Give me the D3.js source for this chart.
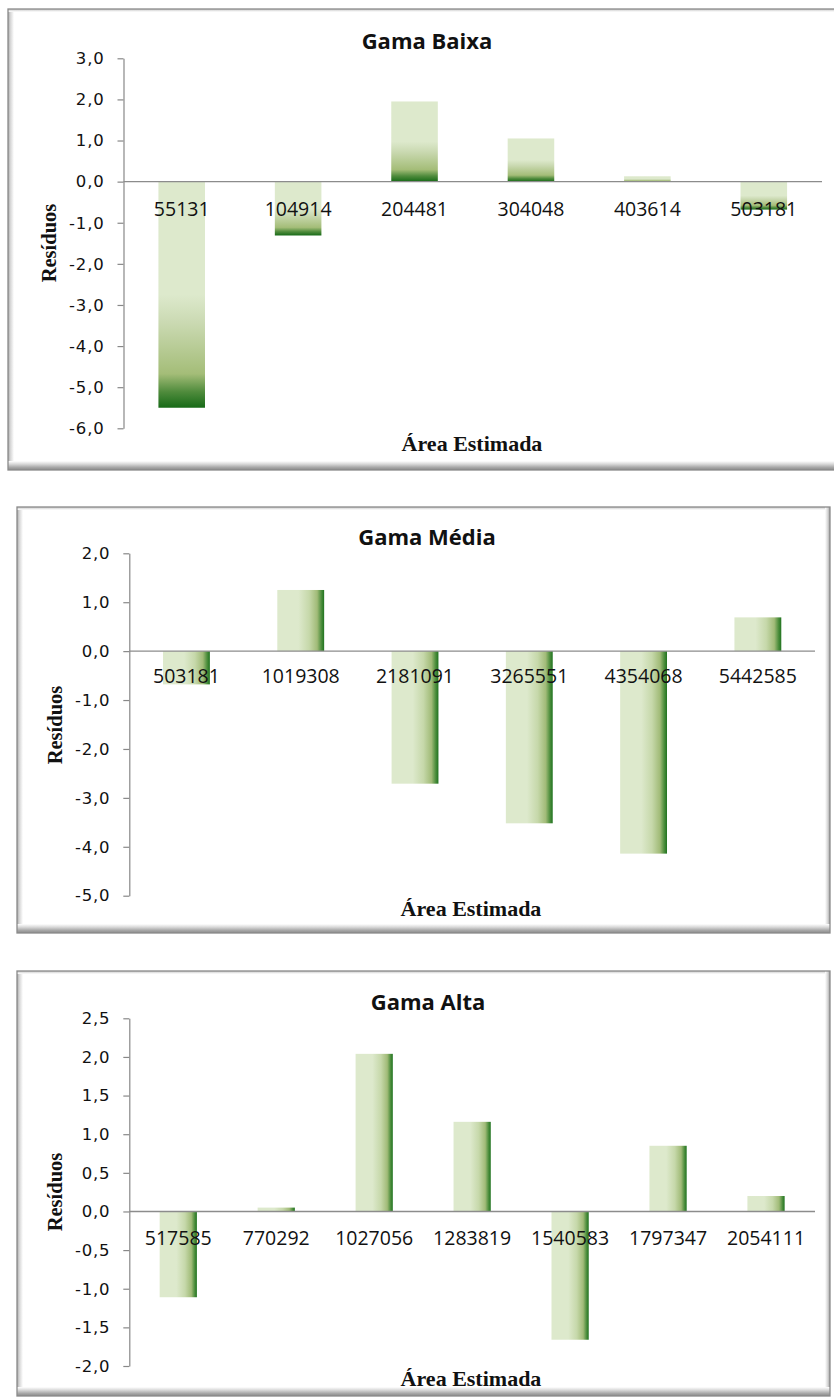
<!DOCTYPE html>
<html>
<head>
<meta charset="utf-8">
<script src="https://cdn.jsdelivr.net/npm/d3@7"></script>
<style>
  html, body { margin: 0; padding: 0; background: #ffffff; }
  svg { display: block; }
</style>
</head>
<body>
<svg id="fig" width="834" height="1398"></svg>
<script>
// Residuals against estimated area, one bar chart per range (Baixa, Média, Alta)
const baixaCategories = ["55131", "104914", "204481", "304048", "403614", "503181"];
const baixaValues = [-5.50, -1.31, 1.95, 1.05, 0.13, -0.68];
const baixaTicks = [3, 2, 1, 0, -1, -2, -3, -4, -5, -6];

const mediaCategories = ["503181", "1019308", "2181091", "3265551", "4354068", "5442585"];
const mediaValues = [-0.68, 1.25, -2.71, -3.52, -4.14, 0.69];
const mediaTicks = [2, 1, 0, -1, -2, -3, -4, -5];

const altaCategories = ["517585", "770292", "1027056", "1283819", "1540583", "1797347", "2054111"];
const altaValues = [-1.11, 0.05, 2.04, 1.16, -1.66, 0.85, 0.20];
const altaTicks = [2.5, 2, 1.5, 1, 0.5, 0, -0.5, -1, -1.5, -2];

const titles = ["Gama Baixa", "Gama Média", "Gama Alta"];
const yTitle = "Resíduos";
const xTitle = "Área Estimada";

const locale = d3.formatLocale({ decimal: ",", thousands: ".", grouping: [3], currency: ["", ""], minus: "-" });
const fmt = locale.format(".1f");

const svg = d3.select("#fig");
const defs = svg.append("defs");

function linearGradient(id, horizontal, stops) {
  const g = defs.append("linearGradient").attr("id", id)
    .attr("x1", 0).attr("y1", 0)
    .attr("x2", horizontal ? 1 : 0).attr("y2", horizontal ? 0 : 1);
  stops.forEach(([o, c]) => g.append("stop").attr("offset", o).attr("stop-color", c));
}

// bar fills: light green fading into dark green
linearGradient("fillVertical", false, [
  [0, "#dde9cc"], [0.5, "#dde9cc"], [0.62, "#cbdab3"], [0.85, "#a4bd78"], [0.93, "#4f8b3c"], [1, "#176a17"]
]);
linearGradient("fillHorizontal", true, [
  [0, "#dde9cc"], [0.45, "#dde9cc"], [0.68, "#c6d8aa"], [0.85, "#a1bb78"], [0.94, "#4d8e3d"], [1, "#1f731f"]
]);

// chart-area bevel
linearGradient("bevelL", true, [[0, "#a9a9a9"], [0.4, "#d6d6d6"], [1, "#ffffff"]]);
linearGradient("bevelT", false, [[0, "#c4c4c4"], [1, "#ffffff"]]);
linearGradient("bevelR", true, [[0, "#ffffff"], [0.6, "#d2d2d2"], [1, "#9a9a9a"]]);
linearGradient("bevelB", false, [[0, "#ffffff"], [0.35, "#d8d8d8"], [0.7, "#a8a8a8"], [1, "#8a8a8a"]]);

function drawFrame(g, x, y, w, h) {
  g.append("rect").attr("x", x).attr("y", y).attr("width", w).attr("height", h).attr("fill", "#ffffff");
  g.append("rect").attr("x", x).attr("y", y).attr("width", 6).attr("height", h).attr("fill", "url(#bevelL)");
  g.append("rect").attr("x", x).attr("y", y).attr("width", w).attr("height", 3).attr("fill", "url(#bevelT)");
  g.append("rect").attr("x", x + w - 5).attr("y", y).attr("width", 5).attr("height", h).attr("fill", "url(#bevelR)");
  g.append("rect").attr("x", x).attr("y", y + h - 9).attr("width", w).attr("height", 9).attr("fill", "url(#bevelB)");
  g.append("rect").attr("x", x).attr("y", y).attr("width", w).attr("height", h)
    .attr("fill", "none").attr("stroke", "#8a8a8a").attr("stroke-width", 1.3);
}

const charts = [
  {
    title: titles[0], categories: baixaCategories, values: baixaValues, ticks: baixaTicks,
    fill: "url(#fillVertical)", frame: [8, 9, 845, 461],
    x0: 123.5, x1: 822, yTop: 58.3, yBot: 428.3, padding: 0.6,
    titleX: 427, titleY: 49, catDy: 34.5, yTitleX: 56, yTitleY: 243, xTitleX: 472, xTitleY: 451
  },
  {
    title: titles[1], categories: mediaCategories, values: mediaValues, ticks: mediaTicks,
    fill: "url(#fillHorizontal)", frame: [17, 507, 813, 426],
    x0: 129.3, x1: 815, yTop: 553.3, yBot: 895.7, padding: 0.59,
    titleX: 427, titleY: 545, catDy: 31.5, yTitleX: 62, yTitleY: 725, xTitleX: 471, xTitleY: 916
  },
  {
    title: titles[2], categories: altaCategories, values: altaValues, ticks: altaTicks,
    fill: "url(#fillHorizontal)", frame: [17, 971, 813, 425],
    x0: 129.3, x1: 815, yTop: 1018.3, yBot: 1366, padding: 0.62,
    titleX: 428, titleY: 1010, catDy: 34, yTitleX: 62, yTitleY: 1192, xTitleX: 471, xTitleY: 1386
  }
];

charts.forEach(c => {
  const g = svg.append("g");
  drawFrame(g, ...c.frame);

  const x = d3.scaleBand().domain(c.categories).range([c.x0, c.x1])
    .paddingInner(c.padding).paddingOuter(c.padding / 2);
  const y = d3.scaleLinear().domain([d3.min(c.ticks), d3.max(c.ticks)]).range([c.yBot, c.yTop]);

  // value axis
  const yAxis = g.append("g").attr("transform", `translate(${c.x0},0)`)
    .call(d3.axisLeft(y).tickValues(c.ticks).tickFormat(fmt).tickSize(6).tickSizeOuter(0).tickPadding(13));
  yAxis.select(".domain").attr("stroke", "#888888").attr("stroke-width", 1.2);
  yAxis.selectAll(".tick line").attr("stroke", "#888888").attr("stroke-width", 1.2);
  yAxis.selectAll(".tick text")
    .attr("fill", "#111111")
    .style("font-family", "'DejaVu Sans', Verdana, sans-serif")
    .style("font-size", "16.5px")
    .style("letter-spacing", "0.8px");

  // bars
  g.append("g").selectAll("rect")
    .data(c.categories.map((k, i) => ({ k, v: c.values[i] })))
    .join("rect")
    .attr("x", d => x(d.k))
    .attr("width", x.bandwidth())
    .attr("y", d => y(Math.max(0, d.v)))
    .attr("height", d => Math.abs(y(d.v) - y(0)))
    .attr("fill", c.fill);

  // zero line (category axis)
  g.append("line")
    .attr("x1", c.x0).attr("x2", c.x1)
    .attr("y1", y(0)).attr("y2", y(0))
    .attr("stroke", "#8c8c8c").attr("stroke-width", 1.4);

  // category labels
  g.append("g").selectAll("text")
    .data(c.categories)
    .join("text")
    .attr("x", d => x(d) + x.bandwidth() / 2)
    .attr("y", y(0) + c.catDy)
    .attr("text-anchor", "middle")
    .attr("fill", "#111111")
    .style("font-family", "'Open Sans', sans-serif")
    .style("font-size", "19.5px")
    .text(d => d);

  // chart title
  g.append("text")
    .attr("x", c.titleX).attr("y", c.titleY)
    .attr("text-anchor", "middle")
    .attr("fill", "#111111")
    .style("font-family", "'Open Sans', sans-serif")
    .style("font-weight", "700")
    .style("font-size", "22px")
    .text(c.title);

  // axis titles
  g.append("text")
    .attr("transform", `translate(${c.yTitleX},${c.yTitleY}) rotate(-90)`)
    .attr("text-anchor", "middle")
    .attr("fill", "#111111")
    .style("font-family", "'Liberation Serif', 'Times New Roman', serif")
    .style("font-weight", "700")
    .style("font-size", "20.5px")
    .text(yTitle);

  g.append("text")
    .attr("x", c.xTitleX).attr("y", c.xTitleY)
    .attr("text-anchor", "middle")
    .attr("fill", "#111111")
    .style("font-family", "'Liberation Serif', 'Times New Roman', serif")
    .style("font-weight", "700")
    .style("font-size", "22px")
    .text(xTitle);
});
</script>
</body>
</html>
